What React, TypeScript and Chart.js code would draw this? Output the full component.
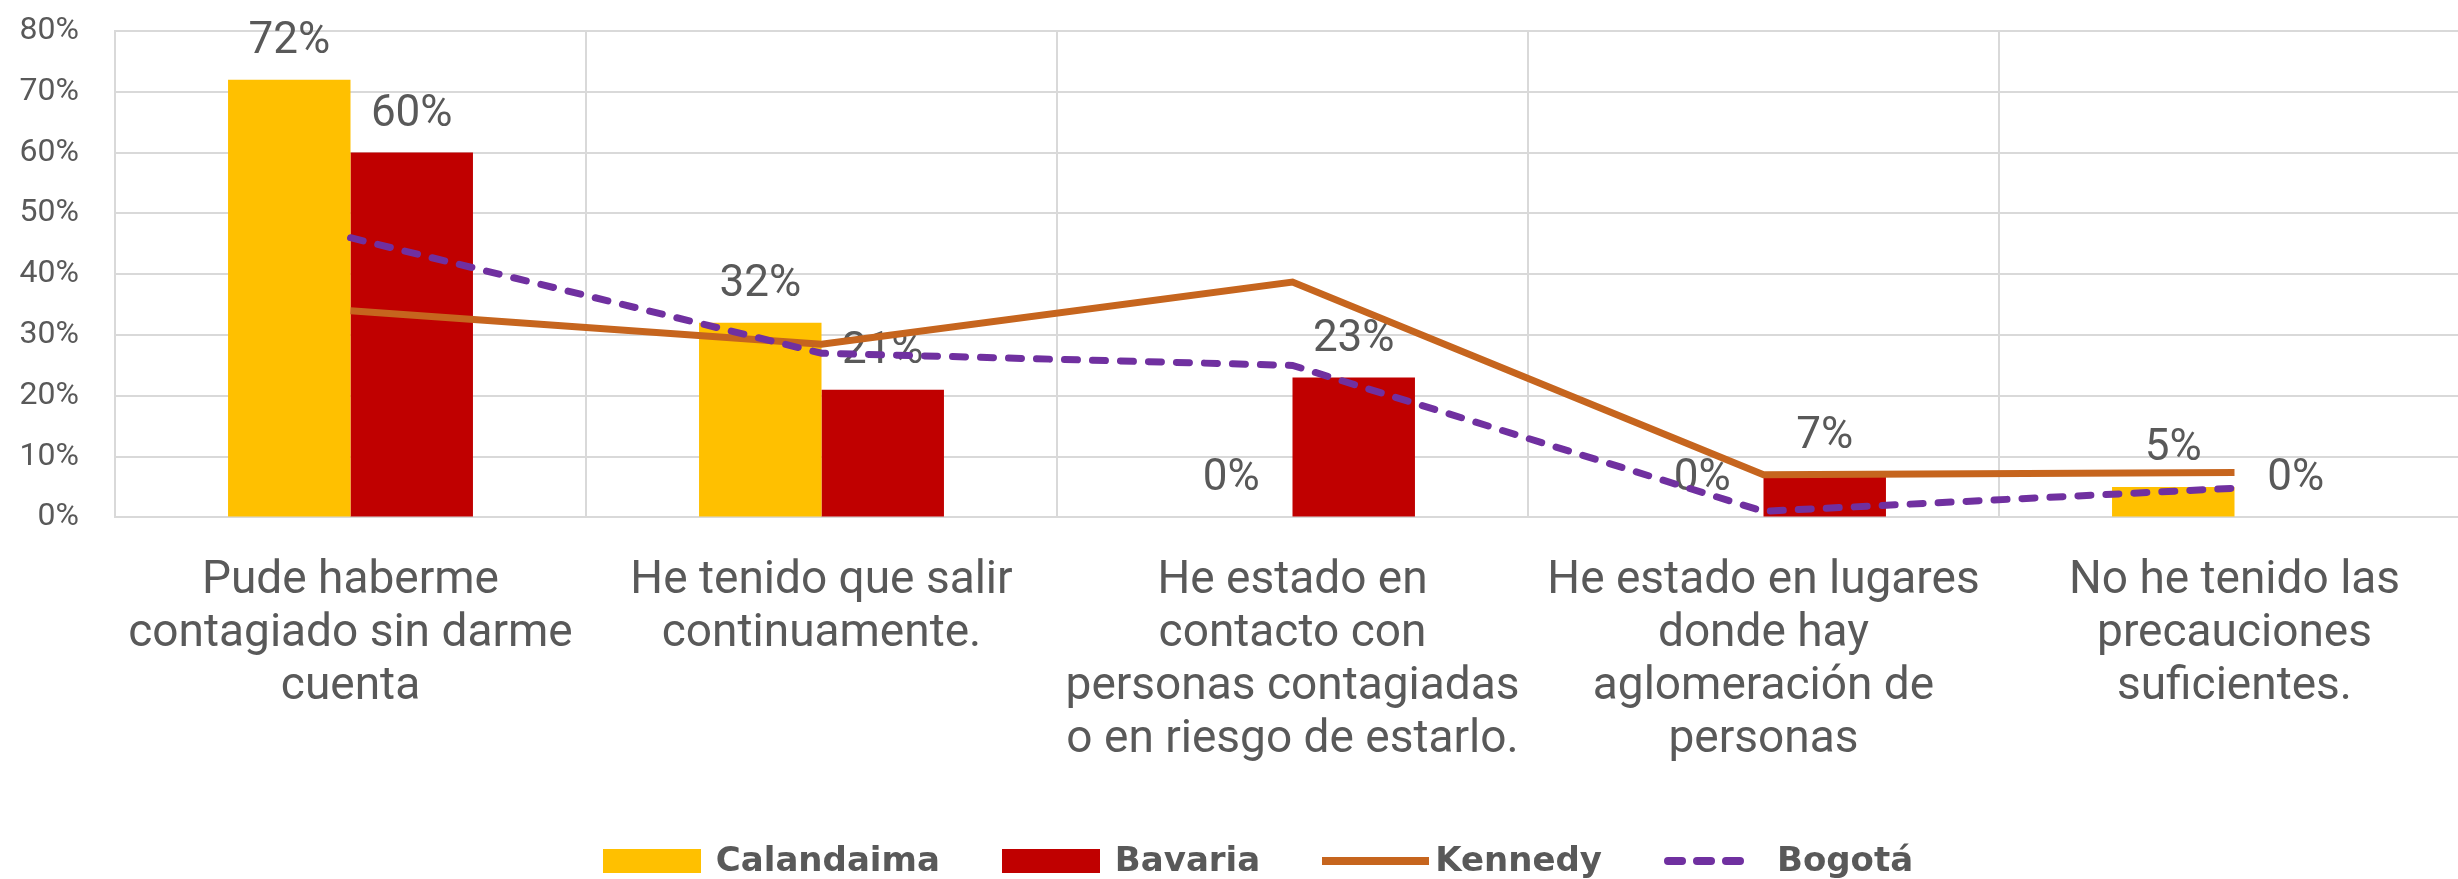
import React, { useEffect, useRef } from "react";
import { Chart, registerables } from "chart.js";

Chart.register(...registerables);

const categories: string[][] = [
  ["Pude haberme", "contagiado sin darme", "cuenta"],
  ["He tenido que salir", "continuamente."],
  ["He estado en", "contacto con", "personas contagiadas", "o en riesgo de estarlo."],
  ["He estado en lugares", "donde hay", "aglomeración de", "personas"],
  ["No he tenido las", "precauciones", "suficientes."],
];

const calandaima = [72, 32, 0, 0, 5];
const bavaria = [60, 21, 23, 7, 0];
const kennedy = [34, 28.5, 38.7, 7, 7.4];
const bogota = [46, 27, 25, 1, 4.8];

const seriesNames = ["Calandaima", "Bavaria", "Kennedy", "Bogotá"];
const seriesColors = ["#FFC000", "#C00000", "#C6651E", "#7030A0"];
const swatchKinds = ["box", "box", "line", "dash"];

const yMin = 0;
const yMax = 80;
const yStep = 10;

const FONT = "Roboto, 'Noto Sans', sans-serif";
const LEGEND_FONT = "'DejaVu Sans', Roboto, sans-serif";
const GRAY = "#595959";
const GRID = "#D9D9D9";

const SLOT = 113;

function makeSwatch(kind: string, color: string): HTMLCanvasElement {
  const c = document.createElement("canvas");
  c.width = SLOT;
  c.height = 24;
  const ctx = c.getContext("2d")!;
  if (kind === "box") {
    ctx.fillStyle = color;
    ctx.fillRect(0, 0, 98, 24);
  } else if (kind === "line") {
    ctx.strokeStyle = color;
    ctx.lineWidth = 8;
    ctx.beginPath();
    ctx.moveTo(0, 12);
    ctx.lineTo(107, 12);
    ctx.stroke();
  } else {
    ctx.strokeStyle = color;
    ctx.lineWidth = 8;
    ctx.lineCap = "round";
    for (let i = 0; i < 3; i++) {
      ctx.beginPath();
      ctx.moveTo(4 + i * 29, 12);
      ctx.lineTo(4 + i * 29 + 14, 12);
      ctx.stroke();
    }
  }
  return c;
}

const barLabelPlugin = {
  id: "barValueLabels",
  afterDatasetDraw(chart: any, args: any) {
    const ds = chart.data.datasets[args.index];
    if (ds.type !== "bar") return;
    const ctx = chart.ctx;
    ctx.save();
    ctx.font = `44px ${FONT}`;
    ctx.fillStyle = GRAY;
    ctx.textAlign = "center";
    ctx.textBaseline = "alphabetic";
    args.meta.data.forEach((el: any, i: number) => {
      ctx.fillText(`${ds.data[i]}%`, el.x, el.y - 27);
    });
    ctx.restore();
  },
};

function makeLegendPlugin() {
  let swatches: HTMLCanvasElement[] | null = null;
  return {
    id: "bottomLegend",
    afterDraw(chart: any) {
      if (!swatches) swatches = seriesNames.map((_, i) => makeSwatch(swatchKinds[i], seriesColors[i]));
      const ctx = chart.ctx;
      ctx.save();
      ctx.font = `bold 34px ${LEGEND_FONT}`;
      ctx.fillStyle = GRAY;
      ctx.textAlign = "left";
      ctx.textBaseline = "middle";
      const itemGap = 62;
      const widths = seriesNames.map((n) => ctx.measureText(n).width);
      const total = widths.reduce((a, w) => a + SLOT + w, 0) + itemGap * (seriesNames.length - 1);
      let x = chart.width / 2 + 22 - total / 2;
      const y = chart.height - 18;
      seriesNames.forEach((n, i) => {
        ctx.drawImage(swatches![i], Math.round(x), Math.round(y - 12));
        x += SLOT;
        ctx.fillText(n, x, y + 1);
        x += widths[i] + itemGap;
      });
      ctx.restore();
    },
  };
}

export default function App() {
  const ref = useRef<HTMLCanvasElement>(null);

  useEffect(() => {
    if (!ref.current) return;
    const chart = new Chart(ref.current, {
      type: "bar",
      data: {
        labels: categories,
        datasets: [
          {
            type: "bar",
            label: seriesNames[0],
            data: calandaima,
            backgroundColor: seriesColors[0],
            barPercentage: 1,
            categoryPercentage: 0.52,
            order: 2,
          },
          {
            type: "bar",
            label: seriesNames[1],
            data: bavaria,
            backgroundColor: seriesColors[1],
            barPercentage: 1,
            categoryPercentage: 0.52,
            order: 2,
          },
          {
            type: "line",
            label: seriesNames[2],
            data: kennedy,
            borderColor: seriesColors[2],
            backgroundColor: seriesColors[2],
            borderWidth: 7,
            pointRadius: 0,
            tension: 0,
            order: 1,
          },
          {
            type: "line",
            label: seriesNames[3],
            data: bogota,
            borderColor: seriesColors[3],
            backgroundColor: seriesColors[3],
            borderWidth: 7,
            borderDash: [13, 15],
            borderCapStyle: "round",
            pointRadius: 0,
            tension: 0,
            order: 0,
          },
        ] as any,
      },
      options: {
        responsive: false,
        animation: false,
        devicePixelRatio: 1,
        layout: { padding: { top: 31, left: 19, right: 2, bottom: 74 } },
        plugins: {
          legend: { display: false },
          tooltip: { enabled: false },
        },
        scales: {
          x: {
            type: "category",
            offset: true,
            grid: { offset: true, color: GRID, lineWidth: 2, drawTicks: false },
            border: { color: GRID, width: 2 },
            ticks: {
              color: GRAY,
              font: { family: FONT, size: 46, lineHeight: 1.15 },
              padding: 38,
              maxRotation: 0,
              minRotation: 0,
              autoSkip: false,
            },
            afterFit: (s: any) => {
              s.paddingLeft = 0;
              s.paddingRight = 0;
            },
          },
          y: {
            min: yMin,
            max: yMax,
            grid: { color: GRID, lineWidth: 2, drawTicks: false },
            border: { color: GRID, width: 2 },
            ticks: {
              stepSize: yStep,
              padding: 36,
              color: GRAY,
              font: { family: FONT, size: 32 },
              callback: (v: any) => `${v}%`,
            },
            afterFit: (s: any) => {
              s.paddingTop = 0;
              s.paddingBottom = 0;
              s.width = 96;
            },
          },
        },
      } as any,
      plugins: [barLabelPlugin, makeLegendPlugin()],
    });
    return () => chart.destroy();
  }, []);

  return (
    <div
      style={{
        position: "fixed",
        left: 0,
        top: 0,
        width: 2458,
        height: 879,
        overflow: "hidden",
        background: "#ffffff",
      }}
    >
      <canvas ref={ref} width={2472} height={879} style={{ display: "block" }} />
    </div>
  );
}
